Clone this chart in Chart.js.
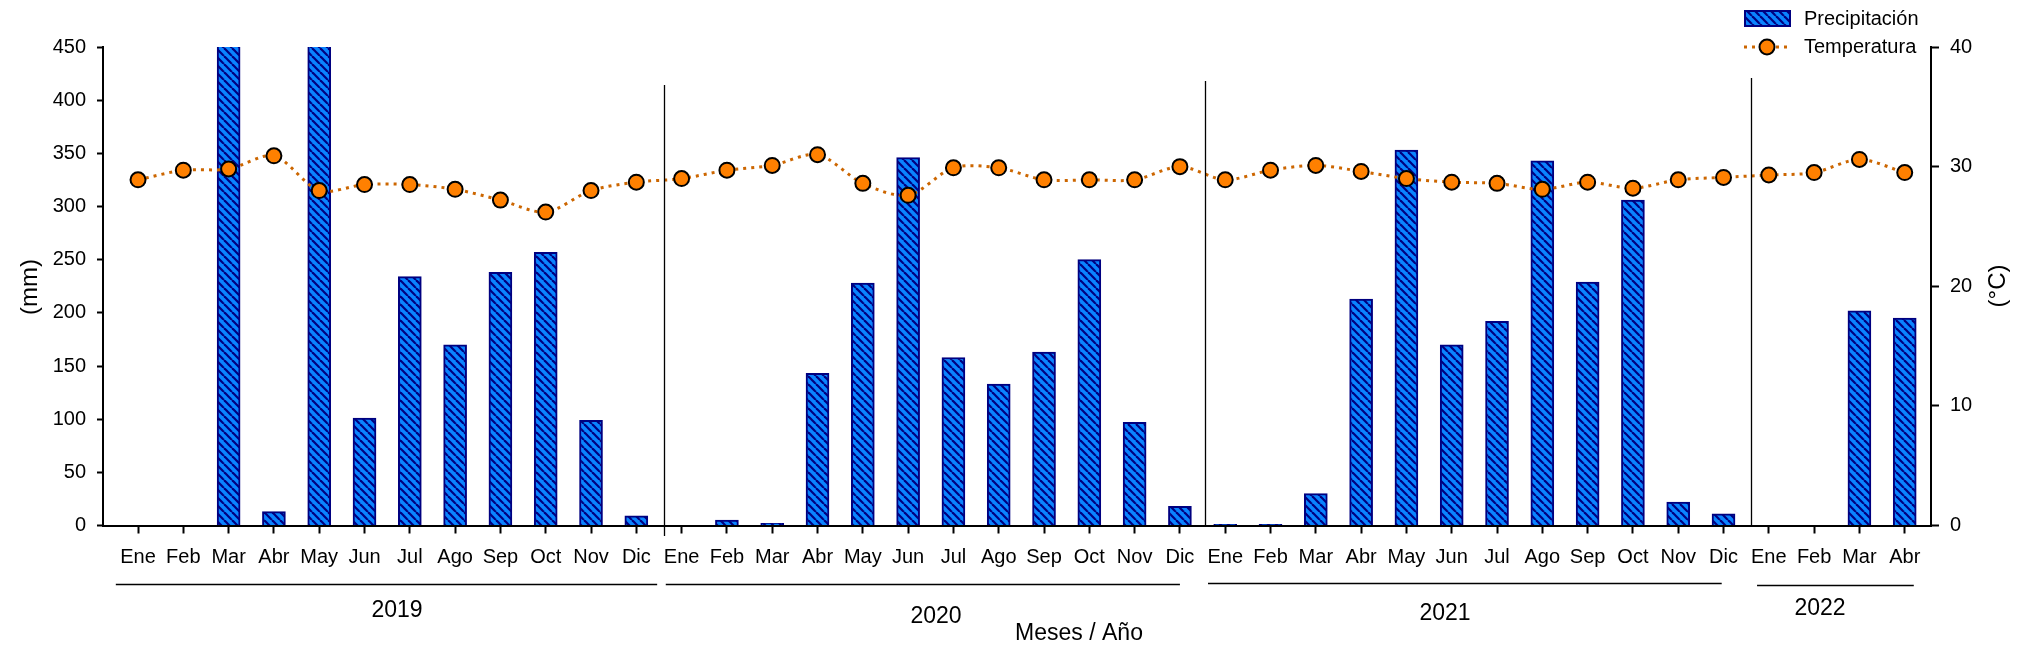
<!DOCTYPE html>
<html>
<head>
<meta charset="utf-8">
<script src="https://cdn.jsdelivr.net/npm/chart.js@4"></script>
<style>
  body { margin: 0; background: #fff; }
  #wrap { width: 2036px; height: 649px; }
</style>
</head>
<body>
<div id="wrap"><canvas id="grafico"></canvas></div>
<script>
// ---------------- datos ----------------
var meses = ['Ene', 'Feb', 'Mar', 'Abr', 'May', 'Jun', 'Jul', 'Ago', 'Sep', 'Oct', 'Nov', 'Dic'];
var anios = ['2019', '2020', '2021', '2022'];
var mesesPorAnio = [12, 12, 12, 4];

// precipitacion (mm) - Mar y May 2019 salen del eje (> 450)
var precip2019 = [0, 0, 520, 13, 490, 101, 234, 170, 238, 257, 99, 9];
var precip2020 = [0, 5, 2, 143, 228, 346, 158, 133, 163, 250, 97, 18];
var precip2021 = [1, 1, 30, 213, 353, 170, 192, 343, 229, 306, 22, 11];
var precip2022 = [0, 0, 202, 195];

// temperatura (°C)
var temp2019 = [28.9, 29.7, 29.8, 30.9, 28.0, 28.5, 28.5, 28.1, 27.2, 26.2, 28.0, 28.7];
var temp2020 = [29.0, 29.7, 30.1, 31.0, 28.6, 27.6, 29.9, 29.9, 28.9, 28.9, 28.9, 30.0];
var temp2021 = [28.9, 29.7, 30.1, 29.6, 29.0, 28.7, 28.6, 28.1, 28.7, 28.2, 28.9, 29.1];
var temp2022 = [29.3, 29.5, 30.6, 29.5];

var ticksMm = [0, 50, 100, 150, 200, 250, 300, 350, 400, 450];
var ticksC = [0, 10, 20, 30, 40];

// ---------------- armado ----------------
var etiquetas = [];
mesesPorAnio.forEach(function (n) {
    for (var i = 0; i < n; i++) etiquetas.push(meses[i]);
});
var precip = precip2019.concat(precip2020, precip2021, precip2022);
var temp = temp2019.concat(temp2020, temp2021, temp2022);

var FUENTE = '"Liberation Sans", Arial, sans-serif';

// relleno rayado de las barras
function rayado() {
    var c = document.createElement('canvas');
    c.width = 8; c.height = 8;
    var g = c.getContext('2d');
    g.fillStyle = '#0A84FF';
    g.fillRect(0, 0, 8, 8);
    g.strokeStyle = '#000080';
    g.lineWidth = 2.2;
    [-8, 0, 8].forEach(function (o) {
        g.beginPath();
        g.moveTo(o, 0);
        g.lineTo(o + 8, 8);
        g.stroke();
    });
    return g.createPattern(c, 'repeat');
}
var patron = rayado();

// extras: separadores, años, titulos, leyenda
var extras = {
    id: 'extras',
    afterDraw: function (chart) {
        var ctx = chart.ctx;
        var x = chart.scales.x;
        var area = chart.chartArea;
        ctx.save();

        // separadores verticales entre años
        var seps = [[11.61, 85, 536], [23.55, 81, area.bottom], [35.61, 78, area.bottom]];
        ctx.strokeStyle = '#000';
        ctx.lineWidth = 1.3;
        seps.forEach(function (s) {
            var px = Math.round(x.getPixelForValue(s[0])) + 0.5;
            ctx.beginPath();
            ctx.moveTo(px, s[1]);
            ctx.lineTo(px, s[2]);
            ctx.stroke();
        });

        // lineas y rotulos de año
        var tramos = [[-0.49, 11.46, 584, 397, 611], [11.65, 23.0, 584, 936, 617],
                      [23.62, 34.96, 583, 1445, 614], [35.74, 39.2, 585, 1820, 609]];
        ctx.lineWidth = 1.5;
        ctx.fillStyle = '#000';
        ctx.font = '23px ' + FUENTE;
        ctx.textAlign = 'center';
        ctx.textBaseline = 'middle';
        tramos.forEach(function (t, i) {
            ctx.beginPath();
            ctx.moveTo(x.getPixelForValue(t[0]), t[2] + 0.5);
            ctx.lineTo(x.getPixelForValue(t[1]), t[2] + 0.5);
            ctx.stroke();
            ctx.fillText(anios[i], t[3], t[4]);
        });
        ctx.fillText('Meses / Año', 1079, 634);

        // titulos de ejes
        ctx.font = '24px ' + FUENTE;
        [['(mm)', 30, 287], ['(°C)', 1998, 286]].forEach(function (t) {
            ctx.save();
            ctx.translate(t[1], t[2]);
            ctx.rotate(-Math.PI / 2);
            ctx.fillText(t[0], 0, 0);
            ctx.restore();
        });

        // leyenda
        ctx.font = '20px ' + FUENTE;
        ctx.textAlign = 'left';
        ctx.fillStyle = patron;
        ctx.fillRect(1744, 10, 47, 17);
        ctx.strokeStyle = '#000080';
        ctx.lineWidth = 2;
        ctx.strokeRect(1745, 11, 45, 15);
        ctx.fillStyle = '#000';
        ctx.fillText('Precipitación', 1804, 19);

        ctx.strokeStyle = '#CC6600';
        ctx.lineWidth = 3;
        ctx.setLineDash([3, 5]);
        ctx.beginPath();
        ctx.moveTo(1744, 47);
        ctx.lineTo(1792, 47);
        ctx.stroke();
        ctx.setLineDash([]);
        ctx.beginPath();
        ctx.arc(1767, 47, 7.5, 0, Math.PI * 2);
        ctx.fillStyle = '#FF8000';
        ctx.fill();
        ctx.strokeStyle = '#000';
        ctx.lineWidth = 2;
        ctx.stroke();
        ctx.fillStyle = '#000';
        ctx.fillText('Temperatura', 1804, 47);

        ctx.restore();
    }
};

var fuenteTicks = { size: 20, family: FUENTE };

var config = {
    data: {
        datasets: [{
            type: 'line',
            label: 'Temperatura',
            data: temp.map(function (v, i) { return { x: i, y: v }; }),
            yAxisID: 'y1',
            order: 0,
            borderColor: '#CC6600',
            borderWidth: 3,
            borderDash: [3, 5],
            tension: 0.3,
            pointRadius: 7.5,
            pointBackgroundColor: '#FF8000',
            pointBorderColor: '#000',
            pointBorderWidth: 2
        }, {
            type: 'bar',
            label: 'Precipitación',
            data: precip.map(function (v, i) { return { x: i, y: v }; }),
            yAxisID: 'y',
            order: 1,
            backgroundColor: patron,
            borderColor: '#000080',
            borderWidth: 2,
            barThickness: 23
        }]
    },
    options: {
        responsive: true,
        maintainAspectRatio: false,
        animation: false,
        layout: { padding: { top: 47, left: 0, right: 0, bottom: 0 } },
        plugins: {
            legend: { display: false },
            tooltip: { enabled: false }
        },
        scales: {
            x: {
                type: 'linear',
                offset: false,
                min: -0.773,
                max: 39.58,
                afterBuildTicks: function (s) {
                    s.ticks = etiquetas.map(function (e, i) { return { value: i }; });
                },
                afterFit: function (s) { s.height = 123.5; },
                ticks: {
                    color: '#000',
                    font: fuenteTicks,
                    autoSkip: false,
                    maxRotation: 0,
                    padding: 12,
                    callback: function (v) { return etiquetas[v]; }
                },
                grid: { display: true, offset: false, drawOnChartArea: false, drawTicks: true, tickLength: 8, color: '#000', tickWidth: 2 },
                border: { display: true, color: '#000', width: 2 }
            },
            y: {
                position: 'left',
                min: 0,
                max: 450,
                afterBuildTicks: function (s) {
                    s.ticks = ticksMm.map(function (v) { return { value: v }; });
                },
                afterFit: function (s) { s.width = 103; },
                ticks: { color: '#000', font: fuenteTicks, padding: 11 },
                grid: { display: true, drawOnChartArea: false, drawTicks: true, tickLength: 6, color: '#000', tickWidth: 2 },
                border: { display: true, color: '#000', width: 2 }
            },
            y1: {
                position: 'right',
                min: 0,
                max: 40,
                afterBuildTicks: function (s) {
                    s.ticks = ticksC.map(function (v) { return { value: v }; });
                },
                afterFit: function (s) { s.width = 105; },
                ticks: { color: '#000', font: fuenteTicks, padding: 11 },
                grid: { display: true, drawOnChartArea: false, drawTicks: true, tickLength: 8, color: '#000', tickWidth: 2 },
                border: { display: true, color: '#000', width: 2 }
            }
        }
    },
    plugins: [extras]
};

var grafico = new Chart(document.getElementById('grafico'), config);
</script>
</body>
</html>
